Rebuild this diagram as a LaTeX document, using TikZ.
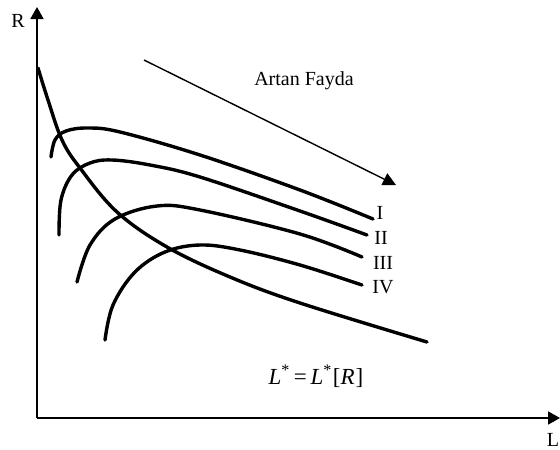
\documentclass[tikz,border=0pt]{standalone}
\usepackage{fontspec}
\setmainfont{Liberation Serif}
\usetikzlibrary{arrows.meta}
\begin{document}
\begin{tikzpicture}[x=1pt,y=-1pt,
  axis/.style={line width=1.8pt,-{Triangle[length=12pt,width=13pt]}},
  curve/.style={line width=3.4pt,line cap=round,line join=round},
  lbl/.style={font=\fontsize{20}{22}\selectfont,inner sep=0pt}]
\useasboundingbox (0,0) rectangle (560,450);
\coordinate (O) at (37,418);
\coordinate (Ytop) at (37,7);
\coordinate (Xend) at (560,418);
\draw[axis] (O) -- (Ytop);
\draw[axis] (O) -- (Xend);
\node[lbl] (R) at (18,21) {R};
\node[lbl] (L) at (553,440) {L};
% L* curve
\draw[curve] plot[smooth,tension=0.6] coordinates {(38,68) (48,100) (62,140) (80,168) (117,212) (167,247) (230,277) (300,303) (427,342)};
% indifference curves
\draw[curve] plot[smooth,tension=0.6] coordinates {(51,157) (55,140) (66,131) (88,128) (120,132) (200,155) (300,190) (373,219)};
\draw[curve] plot[smooth,tension=0.6] coordinates {(59,235) (61,200) (72,175) (90,163) (112,160) (150,165) (200,177) (300,211) (367,235)};
\draw[curve] plot[smooth,tension=0.6] coordinates {(77,282) (90,245) (115,219) (157,206) (200,210) (300,234) (362,257)};
\draw[curve] plot[smooth,tension=0.6] coordinates {(105,340) (113,305) (135,272) (165,252) (200,245) (240,250) (300,265) (362,285)};
\node[lbl] (cI) at (380,213) {I};
\node[lbl] (cII) at (381,238) {II};
\node[lbl] (cIII) at (383,263) {III};
\node[lbl] (cIV) at (383,287) {IV};
% arrow
\coordinate (A1) at (144,60);
\coordinate (A2) at (396,185);
\draw[line width=1.4pt,-{Triangle[length=13pt,width=13pt]}] (A1) -- (A2);
\node[lbl] (AF) at (304,81) {Artan Fayda};
\node[lbl,font=\fontsize{23}{25}\selectfont] (eq) at (316,376) {\textit{L}\textsuperscript{*}\,=\,\textit{L}\textsuperscript{*}\kern1pt[\textit{R}\kern1pt]};
\end{tikzpicture}
\end{document}
